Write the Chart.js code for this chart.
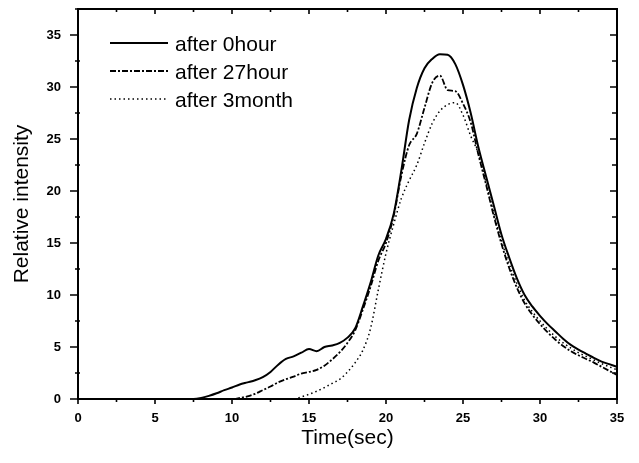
<!DOCTYPE html>
<html>
<head>
<meta charset="utf-8">
<script src="https://cdn.jsdelivr.net/npm/chart.js@4.4.1/dist/chart.umd.min.js"></script>
<style>
  html, body { margin: 0; padding: 0; background: #fff; }
  canvas { display: block; }
</style>
</head>
<body>
<canvas id="chart" width="639" height="463"></canvas>
<script>
// time axis (sec), shared by all three series
const times = [0, 1, 2, 3, 4, 5, 6,
  7, 7.5, 8, 8.5, 9, 9.5, 10, 10.5, 11, 11.5, 12, 12.5, 13, 13.5, 14, 14.5,
  15, 15.5, 16, 16.5, 17, 17.5, 18, 18.5, 19, 19.5, 20, 20.5, 21, 21.5, 22, 22.5,
  23, 23.5, 24, 24.5, 25, 25.5, 26, 26.5, 27, 27.5, 28, 28.5, 29, 29.5, 30, 30.5,
  31, 31.5, 32, 32.5, 33, 33.5, 34, 34.5, 35];

const after0hour = [0, 0, 0, 0, 0, 0, 0,
  0, 0, 0.1, 0.3, 0.55, 0.85, 1.1, 1.4, 1.6, 1.8, 2.1, 2.6, 3.3, 3.85, 4.1, 4.45,
  4.8, 4.6, 5.0, 5.15, 5.4, 5.9, 6.8, 8.9, 11.2, 13.8, 15.4, 17.8, 22.0, 26.8, 29.9, 31.8,
  32.7, 33.15, 33.1, 32.2, 30.2, 27.5, 24.2, 21.4, 18.6, 15.8, 13.6, 11.6, 10.0, 8.9, 8.0, 7.2,
  6.5, 5.8, 5.2, 4.75, 4.35, 3.95, 3.6, 3.35, 3.1];

const after27hour = [0, 0, 0, 0, 0, 0, 0,
  0, 0, 0, 0, 0, 0, 0, 0.1, 0.25, 0.5, 0.85, 1.2, 1.6, 1.9, 2.15, 2.45,
  2.6, 2.8, 3.2, 3.8, 4.5, 5.4, 6.6, 8.6, 10.8, 13.3, 15.0, 17.6, 21.5, 24.4, 25.5, 28.0,
  30.4, 31.1, 29.7, 29.6, 28.4, 26.6, 23.5, 20.6, 17.6, 14.9, 12.6, 10.7, 9.2, 8.1, 7.2, 6.4,
  5.7, 5.1, 4.6, 4.2, 3.85, 3.5, 3.1, 2.7, 2.3];

const after3month = [0, 0, 0, 0, 0, 0, 0,
  0, 0, 0, 0, 0, 0, 0, 0, 0, 0, 0, 0, 0, 0, 0, 0.2,
  0.45, 0.75, 1.1, 1.5, 1.9, 2.6, 3.5, 4.7, 6.8, 10.5, 14.0, 16.8, 19.3, 21.0, 22.5, 24.6,
  26.5, 27.7, 28.3, 28.5, 27.3, 25.3, 23.6, 20.8, 17.9, 15.2, 13.0, 11.1, 9.5, 8.4, 7.5, 6.7,
  6.0, 5.4, 4.9, 4.45, 4.1, 3.75, 3.4, 3.1, 2.8];

const seriesNames = ['after 0hour', 'after 27hour', 'after 3month'];

const FONT = "'Liberation Sans', Arial, sans-serif";

function toPoints(values) {
  return times.map((t, i) => ({ x: t, y: values[i] }));
}

// box frame with ticks on all four sides (major outward on left/bottom, inward on top/right)
const frameTicks = {
  id: 'frameTicks',
  afterDraw(chart) {
    const { ctx, chartArea: a, scales: { x, y } } = chart;
    ctx.save();
    ctx.strokeStyle = '#000';
    ctx.lineWidth = 2;
    ctx.strokeRect(a.left, a.top, a.right - a.left, a.bottom - a.top);

    const xMajor = x.ticks.map(t => t.value);
    const yMajor = y.ticks.map(t => t.value);
    const xMinor = xMajor.slice(1).map((v, i) => (v + xMajor[i]) / 2);
    const yMinor = yMajor.slice(1).map((v, i) => (v + yMajor[i]) / 2);
    yMinor.push(yMajor[yMajor.length - 1] + 2.5);

    ctx.lineWidth = 1.6;
    ctx.beginPath();
    xMajor.forEach(v => {
      const px = x.getPixelForValue(v);
      ctx.moveTo(px, a.bottom); ctx.lineTo(px, a.bottom + 5);
      ctx.moveTo(px, a.top); ctx.lineTo(px, a.top + 5);
    });
    xMinor.forEach(v => {
      const px = x.getPixelForValue(v);
      ctx.moveTo(px, a.bottom); ctx.lineTo(px, a.bottom + 3);
      ctx.moveTo(px, a.top); ctx.lineTo(px, a.top + 3);
    });
    yMajor.forEach(v => {
      const py = y.getPixelForValue(v);
      ctx.moveTo(a.left - 8, py); ctx.lineTo(a.left, py);
      ctx.moveTo(a.right, py); ctx.lineTo(a.right - 7, py);
    });
    yMinor.forEach(v => {
      if (v > y.max) return;
      const py = y.getPixelForValue(v);
      ctx.moveTo(a.left - 3, py); ctx.lineTo(a.left + 2, py);
      ctx.moveTo(a.right, py); ctx.lineTo(a.right - 5, py);
    });
    ctx.stroke();
    ctx.restore();
  }
};

// legend drawn inside the plot, upper left
const innerLegend = {
  id: 'innerLegend',
  afterDraw(chart) {
    const { ctx, chartArea: a } = chart;
    ctx.save();
    ctx.font = '21px ' + FONT;
    ctx.fillStyle = '#000';
    ctx.textBaseline = 'middle';
    chart.data.datasets.forEach((ds, i) => {
      const yy = a.top + 34 + i * 28;
      ctx.save();
      ctx.strokeStyle = ds.borderColor;
      ctx.lineWidth = ds.borderWidth;
      ctx.setLineDash(ds.borderDash || []);
      ctx.beginPath();
      ctx.moveTo(a.left + 32, yy);
      ctx.lineTo(a.left + 90, yy);
      ctx.stroke();
      ctx.restore();
      ctx.fillText(ds.label, a.left + 97, yy + 2);
    });
    ctx.restore();
  }
};

new Chart(document.getElementById('chart'), {
  type: 'line',
  data: {
    datasets: [
      {
        label: seriesNames[0],
        data: toPoints(after0hour),
        borderColor: '#000',
        borderWidth: 2,
        borderDash: []
      },
      {
        label: seriesNames[1],
        data: toPoints(after27hour),
        borderColor: '#000',
        borderWidth: 1.8,
        borderDash: [6, 2, 2, 2]
      },
      {
        label: seriesNames[2],
        data: toPoints(after3month),
        borderColor: '#000',
        borderWidth: 1.5,
        borderDash: [1.5, 3]
      }
    ]
  },
  options: {
    responsive: false,
    animation: false,
    layout: { padding: { top: 9, right: 22, left: 0, bottom: 0 } },
    elements: {
      point: { radius: 0 },
      line: { cubicInterpolationMode: 'monotone', fill: false }
    },
    plugins: {
      legend: { display: false },
      tooltip: { enabled: false }
    },
    scales: {
      x: {
        type: 'linear',
        min: 0,
        max: 35,
        grid: { display: false, drawTicks: false },
        border: { display: false },
        ticks: {
          stepSize: 5,
          maxRotation: 0,
          padding: 12,
          color: '#000',
          font: { family: FONT, size: 13, weight: 'bold' }
        },
        title: {
          display: true,
          text: 'Time(sec)',
          color: '#000',
          font: { family: FONT, size: 21 },
          padding: { top: 0, bottom: 12 }
        },
        afterFit(scale) {
          scale.height = 64;
          scale.paddingLeft = 0;
          scale.paddingRight = 0;
        }
      },
      y: {
        min: 0,
        max: 37.5,
        grid: { display: false, drawTicks: false },
        border: { display: false },
        ticks: {
          stepSize: 5,
          includeBounds: false,
          padding: 17,
          color: '#000',
          font: { family: FONT, size: 13, weight: 'bold' }
        },
        title: {
          display: true,
          text: 'Relative intensity',
          color: '#000',
          font: { family: FONT, size: 21 },
          padding: { top: 10, bottom: 0 }
        },
        afterFit(scale) {
          scale.width = 78;
          scale.paddingTop = 0;
          scale.paddingBottom = 0;
        }
      }
    }
  },
  plugins: [frameTicks, innerLegend]
});
</script>
</body>
</html>
